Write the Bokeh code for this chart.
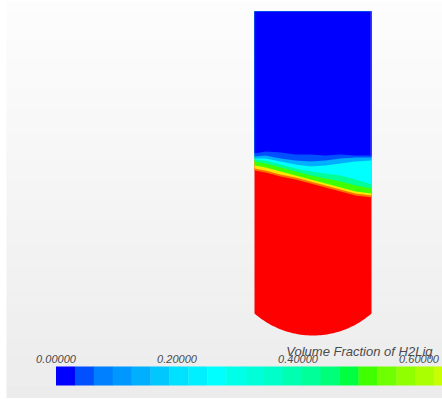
import numpy as np
from bokeh.plotting import figure
from bokeh.models import Range1d
from bokeh.core.properties import value
from bokeh.embed import file_html
from bokeh.resources import INLINE

# Colour map of the volume fraction scale (32 steps from 0 to 1)
palette = [
    "#0000ff", "#0050ff", "#0080ff", "#0098ff", "#00b0ff", "#00c8ff", "#00e0ff", "#00f0ff",
    "#00ffff", "#00ffe8", "#00ffd8", "#00ffc8", "#00ffb0", "#00ff98", "#00ff78", "#00ff40",
    "#40ff00", "#70ff00", "#90ff00", "#aaff00", "#c8ff00", "#e0ff00", "#f8ff00", "#ffe800",
    "#ffd000", "#ffb000", "#ff9000", "#ff7000", "#ff5000", "#ff3000", "#ff1000", "#ff0000",
]
tick_values = [0.0, 0.2, 0.4, 0.6]
tick_labels = ["0.00000", "0.20000", "0.40000", "0.60000"]

# Liquid/gas interface: sample columns across the tank and the depth of each
# contour band (top to bottom), with the volume fraction just above each contour
iface_x = [254, 265, 280, 295, 310, 325, 340, 355, 371]
contour_y = [
    [153, 151, 152, 154, 154, 155, 154, 155, 155],
    [156, 155, 158, 160, 161, 160, 158, 157, 157],
    [158, 158, 161, 164, 166, 165, 163, 161, 160],
    [159, 160, 164, 168, 171, 173, 175, 179, 184],
    [161, 163, 167, 171, 175, 178, 181, 185, 188],
    [165, 167, 171, 175, 179, 183, 187, 191, 193],
    [168, 170, 174, 177, 181, 185, 189, 193, 195],
    [170, 172, 176, 179, 183, 187, 191, 195, 197],
]
band_fraction = [0.0, 0.05, 0.15, 0.28, 0.42, 0.5, 0.72, 0.85]

def frac_color(v):
    return palette[min(int(v * len(palette)), len(palette) - 1)]

W, H = 442, 399
p = figure(width=W, height=H, output_backend="svg", toolbar_location=None,
           x_range=Range1d(0, W), y_range=Range1d(H, 0), min_border=0)
p.axis.visible = False
p.grid.visible = False
p.outline_line_color = None
p.background_fill_color = "#ffffff"
p.border_fill_color = "#ffffff"

# Scene background: light vertical gradient panel
n = 60
edges = np.linspace(0, 397, n + 1)
for i in range(n):
    t = i / (n - 1)
    g = int(round(253 - t * (253 - 236)))
    p.quad(left=6, right=W, top=edges[i], bottom=edges[i + 1] + 0.6,
           fill_color=(g, g, g), line_color=None)

# Tank outline: vertical walls with a spherical-cap bottom
tx0, tx1, ttop, wall_bot, tip = 254, 371, 11, 313, 335
half = (tx1 - tx0) / 2
sag = tip - wall_bot
R = (half ** 2 + sag ** 2) / (2 * sag)
cx, cy = (tx0 + tx1) / 2, tip - R
a0 = np.arcsin(half / R)
ang = np.linspace(a0, -a0, 60)
arc_x = list(cx + R * np.sin(ang))
arc_y = list(cy + R * np.cos(ang))
tank_x = [tx0, tx1, tx1] + arc_x + [tx0]
tank_y = [ttop, ttop, wall_bot] + arc_y + [wall_bot]

# Liquid below the interface
p.patch(tank_x, tank_y, fill_color="#ff0000", line_color=None)

# Interface bands, painted from the deepest contour upward
for ys, v in reversed(list(zip(contour_y, band_fraction))):
    xs = [tx0] + iface_x + [tx1]
    yy = [ttop] + ys + [ttop]
    p.patch(xs, yy, fill_color=frac_color(v), line_color=None)

# Faint highlight along the right wall
p.segment(x0=[tx1 - 0.5], y0=[ttop], x1=[tx1 - 0.5], y1=[contour_y[0][-1]],
          line_color="#3a3aff", line_width=1.2)

# Colour scale bar
bar_x0, bar_w, bar_top, bar_bot = 55.5, 605, 366, 385
seg = bar_w / len(palette)
p.quad(left=[bar_x0 + i * seg for i in range(len(palette))],
       right=[bar_x0 + (i + 1) * seg + 0.3 for i in range(len(palette))],
       top=bar_top, bottom=bar_bot, fill_color=palette, line_color=None)

p.text(x=[bar_x0 + v * bar_w for v in tick_values], y=[362] * len(tick_values),
       text=tick_labels, text_align="center", text_baseline="bottom",
       text_font=value("Liberation Sans"), text_font_style="italic",
       text_font_size="11px", text_color="#4a4a4a")

p.text(x=[432], y=[351], text=["Volume Fraction of H2Liq"], text_align="right",
       text_baseline="alphabetic", text_font=value("Liberation Sans"),
       text_font_style="italic", text_font_size="13px", text_color="#4a4a4a")

open("out.html", "w").write(file_html(p, INLINE))
